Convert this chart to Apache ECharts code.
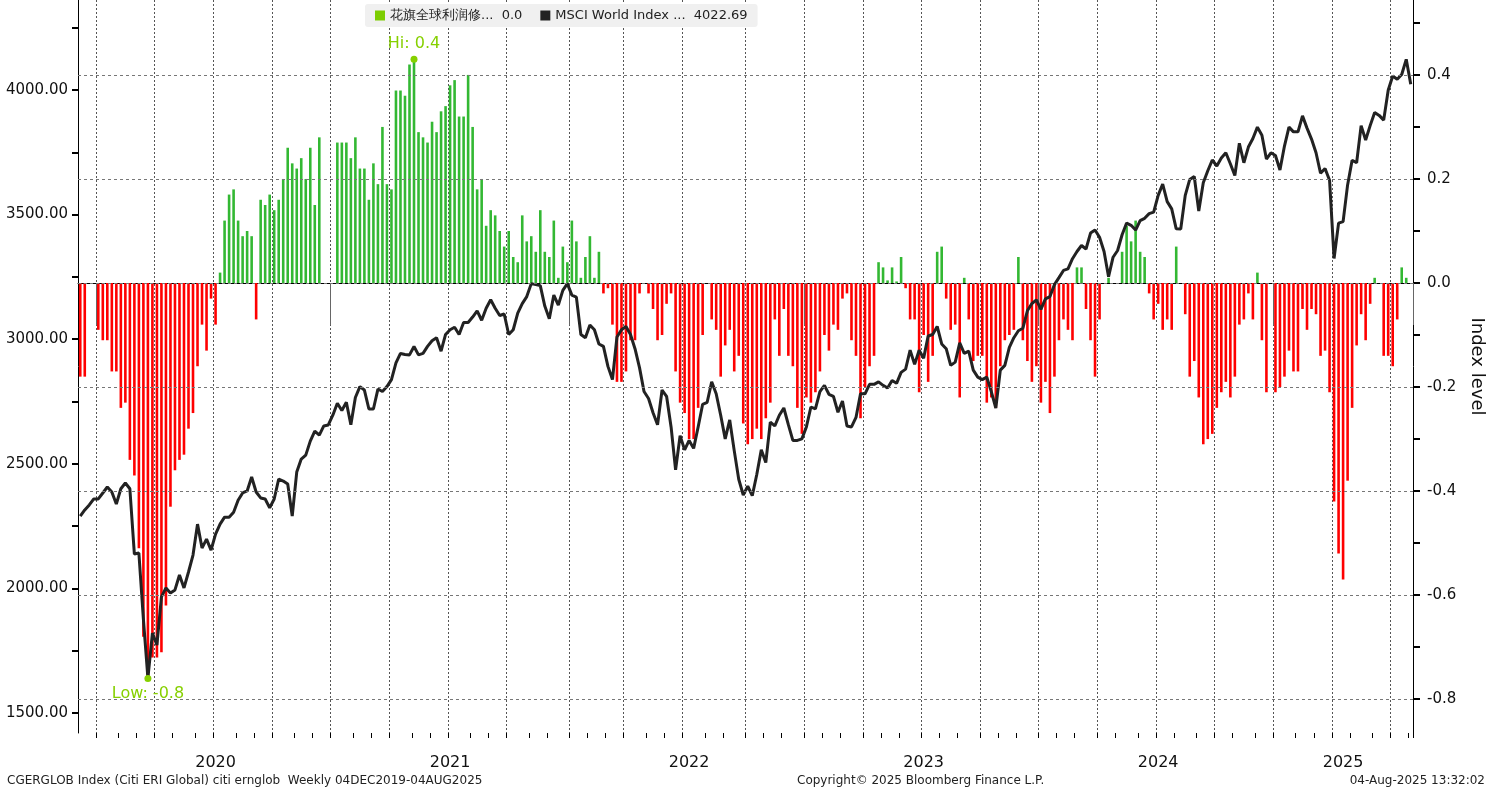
<!DOCTYPE html>
<html><head><meta charset="utf-8">
<script src="https://cdn.jsdelivr.net/npm/echarts@6/dist/echarts.min.js"></script>
<style>html,body{margin:0;padding:0;background:#fff}#c{width:1494px;height:794px}</style>
</head><body><div id="c"></div>
<script>
const barName = '花旗全球利润修正指数';
const lineName = 'MSCI World Index';
const startDate = [2019, 11, 6];
const nWeeks = 296;
const revisions = [
-0.18,-0.18,null,null,-0.09,-0.11,-0.11,-0.17,-0.17,-0.24,
-0.23,-0.34,-0.37,-0.51,-0.68,-0.76,-0.72,-0.72,-0.71,-0.62,
-0.43,-0.36,-0.34,-0.33,-0.28,-0.25,-0.16,-0.08,-0.13,-0.03,
-0.08,0.02,0.12,0.17,0.18,0.12,0.09,0.10,0.09,-0.07,
0.16,0.15,0.17,0.14,0.16,0.20,0.26,0.23,0.22,0.24,
0.20,0.26,0.15,0.28,null,null,null,0.27,0.27,0.27,
0.24,0.28,0.22,0.22,0.16,0.23,0.19,0.30,0.19,0.18,
0.37,0.37,0.36,0.42,0.43,0.29,0.28,0.27,0.31,0.29,
0.33,0.34,0.38,0.39,0.32,0.32,0.40,0.30,0.18,0.20,
0.11,0.14,0.13,0.10,0.07,0.10,0.05,0.04,0.13,0.08,
0.09,0.06,0.14,0.06,0.05,0.12,0.01,0.07,0.04,0.12,
0.08,0.01,0.05,0.09,0.01,0.06,-0.02,-0.01,-0.08,-0.19,
-0.19,-0.17,-0.11,-0.11,-0.02,null,-0.02,-0.05,-0.11,-0.10,
-0.04,-0.02,-0.17,-0.23,-0.25,-0.30,-0.30,-0.24,-0.10,null,
-0.07,-0.09,-0.18,-0.12,-0.09,-0.17,-0.14,-0.27,-0.31,-0.30,
-0.28,-0.30,-0.26,-0.23,-0.07,-0.14,-0.05,-0.14,-0.16,-0.24,
-0.29,-0.22,-0.23,-0.21,-0.17,-0.10,-0.13,-0.08,-0.09,-0.03,
-0.02,-0.11,-0.14,-0.26,-0.20,-0.16,-0.14,0.04,0.03,0.005,
0.03,0.003,0.05,-0.01,-0.07,-0.07,-0.21,-0.10,-0.19,-0.14,
0.06,0.07,-0.03,-0.09,-0.08,-0.22,0.01,-0.07,-0.15,-0.14,
-0.14,-0.23,-0.22,-0.24,-0.16,-0.11,-0.10,-0.09,0.05,-0.11,
-0.15,-0.19,-0.16,-0.23,-0.19,-0.25,-0.18,-0.11,-0.07,-0.09,
-0.11,0.03,0.03,-0.05,-0.11,-0.18,-0.07,null,0.01,null,
null,0.06,0.11,0.08,0.12,0.06,0.05,-0.02,-0.07,-0.04,
-0.09,-0.07,-0.09,0.07,null,-0.06,-0.18,-0.15,-0.22,-0.31,
-0.30,-0.29,-0.24,-0.21,-0.19,-0.22,-0.18,-0.08,-0.07,-0.02,
-0.07,0.02,-0.11,-0.21,null,-0.21,-0.20,-0.18,-0.13,-0.17,
-0.17,-0.05,-0.09,-0.05,-0.06,-0.14,-0.13,-0.21,-0.42,-0.52,
-0.57,-0.38,-0.24,-0.12,-0.06,-0.11,-0.04,0.01,null,-0.14,
-0.14,-0.16,-0.07,0.03,0.01,0.0];
const msci = [
2290,2315,2335,2359,2359,2383,2407,2387,2339,2400,
2423,2400,2138,2142,1877,1640,1821,1773,1966,2002,
1982,1994,2054,2002,2066,2134,2258,2162,2198,2154,
2218,2258,2286,2286,2306,2354,2383,2391,2447,2387,
2363,2359,2323,2359,2439,2431,2419,2290,2467,2519,
2535,2591,2631,2615,2652,2656,2695,2743,2714,2747,
2657,2766,2810,2796,2720,2720,2800,2790,2810,2838,
2905,2943,2939,2937,2971,2937,2943,2971,2994,3006,
2952,3019,3038,3048,3019,3067,3067,3089,3114,3076,
3124,3158,3124,3095,3101,3019,3038,3105,3143,3171,
3223,3219,3215,3133,3082,3177,3137,3196,3223,3177,
3169,3019,3006,3057,3038,2981,2971,2891,2838,3009,
3038,3051,3019,2962,2886,2790,2762,2705,2657,2796,
2771,2648,2476,2613,2556,2594,2562,2648,2739,2747,
2829,2781,2695,2600,2676,2553,2438,2375,2410,2372,
2457,2556,2505,2667,2652,2695,2724,2657,2594,2594,
2600,2648,2728,2720,2790,2815,2779,2771,2707,2752,
2652,2648,2686,2781,2781,2819,2819,2829,2815,2804,
2834,2823,2867,2880,2956,2899,2956,2924,3013,3019,
3051,2981,2962,2895,2908,2985,2943,2952,2876,2848,
2838,2848,2790,2724,2876,2895,2967,3006,3034,3044,
3114,3143,3158,3120,3162,3171,3219,3247,3276,3282,
3323,3352,3376,3362,3426,3438,3409,3352,3251,3329,
3356,3419,3466,3457,3438,3476,3485,3504,3510,3577,
3622,3552,3523,3443,3442,3577,3641,3653,3514,3628,
3676,3719,3695,3727,3748,3704,3657,3786,3708,3771,
3805,3851,3818,3723,3748,3737,3679,3775,3851,3832,
3832,3896,3847,3803,3748,3666,3685,3638,3324,3466,
3472,3619,3718,3708,3857,3799,3857,3910,3898,3879,
3999,4056,4043,4062,4123,4022.69];
const leftTicks = [1500,2000,2500,3000,3500,4000];
const leftMinorTicks = [1500,1750,2000,2250,2500,2750,3000,3250,3500,3750,4000,4250];
const rightTicks = [-0.8,-0.6,-0.4,-0.2,0,0.2,0.4];
const rightMinorTicks = [-0.8,-0.7,-0.6,-0.5,-0.4,-0.3,-0.2,-0.1,0,0.1,0.2,0.3,0.4,0.5];

const dates = [];
for (let i = 0; i < nWeeks; i++) {
  const d = new Date(Date.UTC(startDate[0], startDate[1], startDate[2]) + i * 7 * 86400000);
  dates.push(d.toISOString().slice(0, 10));
}
const yearStart = new Set(), quarterStart = new Set(), monthStart = new Set(), yearLabel = new Set();
const yearRange = {};
dates.forEach((d, i) => {
  const y = d.slice(0, 4), m = +d.slice(5, 7);
  if (!yearRange[y]) yearRange[y] = [i, i]; else yearRange[y][1] = i;
  if (i > 0) {
    const pm = +dates[i - 1].slice(5, 7);
    if (pm !== m) {
      monthStart.add(i);
      if (m === 1) yearStart.add(i);
      if ((m - 1) % 3 === 0) quarterStart.add(i);
    }
  }
});
Object.keys(yearRange).forEach(y => { if (y !== '2019') yearLabel.add(Math.round((yearRange[y][0] + yearRange[y][1]) / 2)); });

const FONT = 'DejaVu Sans';
const chart = echarts.init(document.getElementById('c'));
chart.setOption({
  animation: false,
  textStyle: { fontFamily: FONT },
  grid: { left: 78, right: 74, top: 0, bottom: 61 },
  legend: {
    left: 365, top: 4, backgroundColor: '#f0f0f0', borderRadius: 3, padding: [5, 10],
    itemWidth: 10, itemHeight: 10, itemGap: 18,
    textStyle: { fontFamily: FONT, fontSize: 13, color: '#222' },
    data: [{ name: barName, icon: 'rect', itemStyle: { color: '#7ccd00' } },
           { name: lineName, icon: 'rect', itemStyle: { color: '#222' } }],
    formatter: n => n === barName ? '花旗全球利润修...  ' + revisions[revisions.length - 1].toFixed(1)
                                   : 'MSCI World Index ...  ' + msci[msci.length - 1].toFixed(2)
  },
  title: [
    { text: 'CGERGLOB Index (Citi ERI Global) citi ernglob  Weekly 04DEC2019-04AUG2025', left: 2, bottom: 2, textStyle: { fontSize: 12, fontWeight: 'normal', color: '#222', fontFamily: FONT } },
    { text: 'Copyright© 2025 Bloomberg Finance L.P.', left: 792, bottom: 2, textStyle: { fontSize: 12, fontWeight: 'normal', color: '#222', fontFamily: FONT } },
    { text: '04-Aug-2025 13:32:02', right: 4, bottom: 2, textStyle: { fontSize: 12, fontWeight: 'normal', color: '#222', fontFamily: FONT } }
  ],
  xAxis: [{
    type: 'category', data: dates, boundaryGap: true,
    axisLine: { lineStyle: { color: '#000', width: 1 } },
    axisTick: { show: true, interval: i => yearStart.has(i), length: 42, lineStyle: { color: '#666' } },
    axisLabel: { interval: i => yearLabel.has(i), formatter: v => v.slice(0, 4), fontSize: 16, color: '#111', margin: 22, fontFamily: FONT },
    splitLine: { show: true, interval: i => quarterStart.has(i), lineStyle: { color: '#555', type: [2, 2], width: 1 } }
  }, {
    type: 'category', data: dates, boundaryGap: true, position: 'bottom',
    axisLine: { show: false }, axisLabel: { show: false }, splitLine: { show: false },
    axisTick: { show: true, interval: i => monthStart.has(i), length: 5, lineStyle: { color: '#000' } }
  }],
  yAxis: [{
    type: 'value', position: 'left', min: 1420, max: 4361,
    axisLine: { show: true, lineStyle: { color: '#000' } },
    axisTick: { show: true, customValues: leftMinorTicks, length: 6, lineStyle: { color: '#000', width: 2 } },
    axisLabel: { customValues: leftTicks, formatter: v => v.toFixed(2), fontSize: 15, color: '#111', margin: 10, fontFamily: FONT },
    splitLine: { show: false }
  }, {
    type: 'value', position: 'right', min: -0.865, max: 0.544,
    name: 'Index level', nameLocation: 'middle', nameRotate: -90, nameGap: 55,
    nameTextStyle: { fontSize: 18, color: '#111', fontFamily: FONT },
    axisLine: { show: true, lineStyle: { color: '#000' } },
    axisTick: { show: true, customValues: rightMinorTicks, length: 7, lineStyle: { color: '#000', width: 2 } },
    axisLabel: { customValues: rightTicks, formatter: v => v.toFixed(1), fontSize: 15, color: '#111', margin: 14, fontFamily: FONT },
    splitLine: { show: false }
  }],
  series: [{
    name: barName, type: 'bar', xAxisIndex: 0, yAxisIndex: 1, data: revisions, barWidth: 2.6,
    color: '#7ccd00',
    itemStyle: { color: p => p.value >= 0 ? '#33b833' : '#ff0000' },
    markLine: {
      silent: true, symbol: 'none', label: { show: false },
      lineStyle: { color: '#777', type: [3, 3], width: 1 },
      data: rightTicks.map(v => ({ yAxis: v }))
    },
    markPoint: {
      symbol: 'circle', symbolSize: 7, itemStyle: { color: '#86d000' },
      data: [
        { type: 'max', label: { position: 'top', formatter: p => 'Hi: ' + p.value.toFixed(1), color: '#86d000', fontSize: 16, distance: 4 } },
        { type: 'min', label: { position: 'bottom', formatter: p => 'Low: ' + p.value.toFixed(1), color: '#86d000', fontSize: 16, distance: 4 } }
      ]
    },
    z: 2
  }, {
    name: lineName, type: 'line', xAxisIndex: 0, yAxisIndex: 0, data: msci,
    showSymbol: false, symbol: 'none', color: '#222',
    lineStyle: { color: '#222', width: 3 }, z: 3
  }]
});
</script></body></html>
